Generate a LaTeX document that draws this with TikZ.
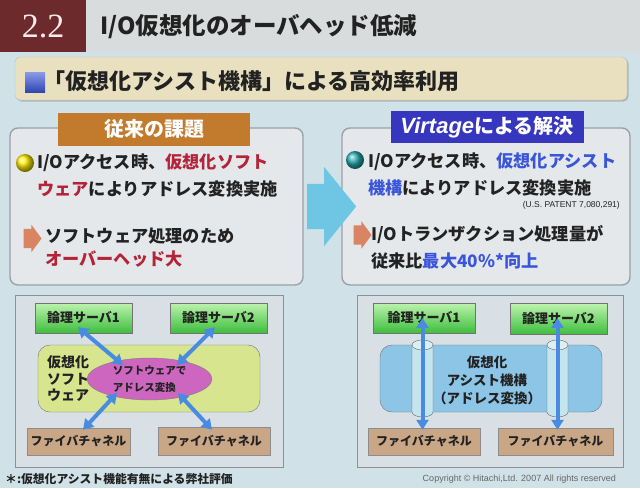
\documentclass[tikz,border=0pt]{standalone}
\usepackage{fontspec}
\setmainfont{Noto Sans CJK JP}
\newfontfamily\latinsans{Liberation Sans}
\newfontfamily\latinserif{Liberation Serif}
\usepackage{xcolor}
\usepackage{tikz}
\usetikzlibrary{arrows.meta,positioning,shapes.geometric,shapes.arrows,shadows}
\definecolor{slbg}{HTML}{D0E2E7}
\definecolor{slhead}{HTML}{D9DCDD}
\definecolor{slmaroon}{HTML}{6C2A2C}
\definecolor{slbeige}{HTML}{E8E0BE}
\definecolor{slpanel}{HTML}{E5E8EA}
\definecolor{slframe}{HTML}{9BA1A8}
\definecolor{sltaborange}{HTML}{C27B2C}
\definecolor{sltabblue}{HTML}{3636BE}
\definecolor{slred}{HTML}{B42339}
\definecolor{slblue}{HTML}{3A55DA}
\definecolor{slink}{HTML}{222222}
\definecolor{slarrow}{HTML}{6EC6E4}
\definecolor{slsalmon}{HTML}{D98463}
\definecolor{sldiag}{HTML}{D8E0E5}
\definecolor{slgreenA}{HTML}{BDF3AE}
\definecolor{slgreenB}{HTML}{3DBE3D}
\definecolor{slfc}{HTML}{C9A786}
\definecolor{slolive}{HTML}{D7E58F}
\definecolor{slpink}{HTML}{CC66BE}
\definecolor{slsky}{HTML}{8CC5E6}
\definecolor{slpipe}{HTML}{C4E4EE}
\definecolor{sllink}{HTML}{4A8BE2}
\tikzset{
    sl title/.style={anchor=west, inner sep=0pt, text=slink,
        font=\bfseries\fontsize{23.5}{27}\selectfont},
    sl panel/.style={
        draw=slframe,
        line width=1.4pt,
        rounded corners=8pt,
        fill=slpanel,
        minimum height=157pt,
        inner sep=0pt
    },
    sl tab/.style={
        minimum width=192pt,
        minimum height=33pt,
        inner sep=0pt,
        text=white,
        font=\bfseries\fontsize{20}{24}\selectfont
    },
    sl item/.style={anchor=west, inner sep=0pt, text=slink,
        font=\bfseries\fontsize{17.2}{20}\selectfont},
    sl ball/.style={circle, minimum size=18pt, inner sep=0pt, shading=ball},
    sl mark/.style={
        single arrow,
        fill=slsalmon,
        minimum height=18pt,
        inner xsep=0pt,
        inner ysep=9.5pt,
        single arrow head extend=4pt,
        single arrow tip angle=107
    },
    sl frame/.style={draw=slframe!90!black, line width=1pt, fill=sldiag,
        minimum height=172pt, inner sep=0pt},
    sl server/.style={
        draw=black!55,
        top color=slgreenA,
        bottom color=slgreenB,
        minimum height=30pt,
        inner sep=0pt,
        text=slink,
        font=\bfseries\fontsize{13}{15}\selectfont
    },
    sl fc/.style={
        draw=black!45,
        fill=slfc,
        minimum height=27pt,
        inner sep=0pt,
        text=slink,
        font=\bfseries\fontsize{12}{14}\selectfont
    },
    sl layer/.style={draw=black!55, rounded corners=12pt, minimum width=222pt,
        minimum height=67pt, inner sep=0pt},
    sl link/.style={{Triangle[length=10pt,width=12pt]}-{Triangle[length=10pt,width=12pt]},
        line width=4pt, draw=sllink}
}

\begin{document}
\begin{tikzpicture}[x=1pt, y=-1pt]
\useasboundingbox (0,0) rectangle (640,488);
\fill[slbg] (0,0) rectangle (640,488);
\fill[slhead] (0,0) rectangle (640,52);

% heading
\node[fill=slmaroon, anchor=north west, minimum width=86pt, minimum height=52pt,
    inner sep=0pt, text=white!92!red, font=\latinserif\fontsize{34}{40}\selectfont] (num) at (0,0) {2.2};
\node[sl title] (title) at (100,27) {I/O仮想化のオーバヘッド低減};
\node[draw=black!25, fill=slbeige, rounded corners=5pt, minimum width=612pt, minimum height=43pt,
    drop shadow={shadow xshift=1.5pt, shadow yshift=-1.5pt, fill=black!45}] (bar) at (321,78.5) {};
\node[top color=slblue!60!white, bottom color=slblue!80!black, minimum size=20pt, inner sep=0pt] (sq) at (35,82.5) {};
\node[sl title, font=\bfseries\fontsize{22}{25}\selectfont] (subtitle) at (43,81) {「仮想化アシスト機構」による高効率利用};

% left panel
\node[sl panel, minimum width=293pt] (oldp) at (156.5,206.5) {};
\node[sl tab, fill=sltaborange] (oldtab) at (154,129) {従来の課題};
\node[sl ball, ball color=yellow!85!orange] (oldball) at (25,163) {};
\node[sl item] (old1a) at (37,163) {I/Oアクセス時、\textcolor{slred}{仮想化ソフト}};
\node[sl item] (old1b) at (37,189) {\textcolor{slred}{ウェア}によりアドレス変換実施};
\node[sl mark] (oldmark) at (29,238.5) {};
\node[sl item] (old2a) at (45,236) {ソフトウェア処理のため};
\node[sl item] (old2b) at (45,259) {\textcolor{slred}{オーバーヘッド大}};

% right panel
\node[sl panel, minimum width=288pt] (newp) at (486,206.5) {};
\node[sl tab, fill=sltabblue, minimum width=193pt, minimum height=32pt] (newtab) at (487,127)
    {{\latinsans\bfseries\itshape\fontsize{22}{24}\selectfont Virtage}による解決};
\node[sl ball, ball color={rgb,255:red,40;green,170;blue,175}] (newball) at (355,160) {};
\node[sl item] (new1a) at (368,162) {I/Oアクセス時、\textcolor{slblue}{仮想化アシスト}};
\node[sl item] (new1b) at (368,188) {\textcolor{slblue}{機構}によりアドレス変換実施};
\node[anchor=east, inner sep=0pt, text=slink, font=\latinsans\fontsize{8.5}{9}\selectfont] (patent) at (620,205) {(U.S. PATENT 7,080,291)};
\node[sl mark] (newmark) at (359,235) {};
\node[sl item] (new2a) at (371,235) {I/Oトランザクション処理量が};
\node[sl item] (new2b) at (371,261) {従来比\textcolor{slblue}{最大40\%*向上}};

% big arrow between panels
\node[single arrow, fill=slarrow, minimum height=49pt, inner xsep=0pt, inner ysep=22.5pt,
    single arrow head extend=17pt, single arrow tip angle=102] (go) at (322.5,206.5) {};

% software translation
\node[sl frame, minimum width=268pt] (diagL) at (149,381) {};
\node[sl server, minimum width=97pt] (srvA) at (83.5,318) {論理サーバ1};
\node[sl server, minimum width=97pt] (srvB) at (218.5,318) {論理サーバ2};
\node[sl layer, fill=slolive] (swL) at (149,378.5) {};
\node[anchor=west, align=left, inner sep=0pt, text=slink,
    font=\bfseries\fontsize{14}{16.5}\selectfont] (swlabel) at (47,378.5) {仮想化\\ソフト\\ウェア};
\node[ellipse, draw=black!50, fill=slpink, minimum width=125pt, minimum height=42pt, inner sep=0pt,
    align=left, text=slink, font=\bfseries\fontsize{10.5}{17}\selectfont] (conv) at (149.5,379) {ソフトウェアで\\アドレス変換};
\node[sl fc, minimum width=103pt] (fcA) at (78.5,441.5) {ファイバチャネル};
\node[sl fc, minimum width=112pt, minimum height=28pt] (fcB) at (214,441) {ファイバチャネル};
\draw[sl link] ([xshift=-5.5pt,yshift=6pt]srvA.south) -- ([xshift=-26.5pt,yshift=14pt]conv.center);
\draw[sl link] ([xshift=-3.5pt,yshift=6pt]srvB.south) -- ([xshift=27.5pt,yshift=14pt]conv.center);
\draw[sl link] ([xshift=-32.5pt,yshift=-14pt]conv.center) -- ([xshift=4.5pt,yshift=-2pt]fcA.north);
\draw[sl link] ([xshift=28.5pt,yshift=-14pt]conv.center) -- ([xshift=-2pt,yshift=-3pt]fcB.north);

% assist hardware
\node[sl frame, minimum width=266pt] (diagR) at (490,381) {};
\node[sl server, minimum width=102pt] (srvC) at (424,318) {論理サーバ1};
\node[sl server, minimum width=97pt, minimum height=31pt] (srvD) at (558.5,319) {論理サーバ2};
\node[sl layer, fill=slsky] (hwR) at (491,378.5) {};
\node[align=center, inner sep=0pt, text=slink,
    font=\bfseries\fontsize{13.5}{18}\selectfont] (hwlabel) at (487,380) {仮想化\\アシスト機構\\（アドレス変換）};
\foreach \px/\nm in {422.5/cylA, 557.5/cylB} {
    \fill[slpipe] (\px-10.5,345) rectangle (\px+10.5,412);
    \draw[black!60, fill=slpipe] (\px-10.5,345) -- (\px-10.5,412)
        arc[start angle=180, end angle=0, x radius=10.5, y radius=5] -- (\px+10.5,345);
    \draw[black!60, fill=slpipe!60!white] (\px,345) ellipse[x radius=10.5, y radius=5];
    \coordinate (\nm) at (\px,378.5);
}
\node[sl fc, minimum width=112pt] (fcC) at (424,441.5) {ファイバチャネル};
\node[sl fc, minimum width=115pt] (fcD) at (555.5,441.5) {ファイバチャネル};
\draw[sl link, shorten >=-2pt] (cylA |- srvC) -- (cylA |- fcC.north);
\draw[sl link, shorten >=-2pt] (cylB |- srvC) -- (cylB |- fcD.north);

% footer
\node[anchor=west, inner sep=0pt, text=slink, font=\bfseries\fontsize{11.8}{13}\selectfont] (note) at (5,479) {＊:仮想化アシスト機能有無による弊社評価};
\node[anchor=east, inner sep=0pt, text=black!60, font=\latinsans\fontsize{9}{10}\selectfont] (copy) at (616,479) {Copyright © Hitachi,Ltd. 2007 All rights reserved};
\end{tikzpicture}
\end{document}
